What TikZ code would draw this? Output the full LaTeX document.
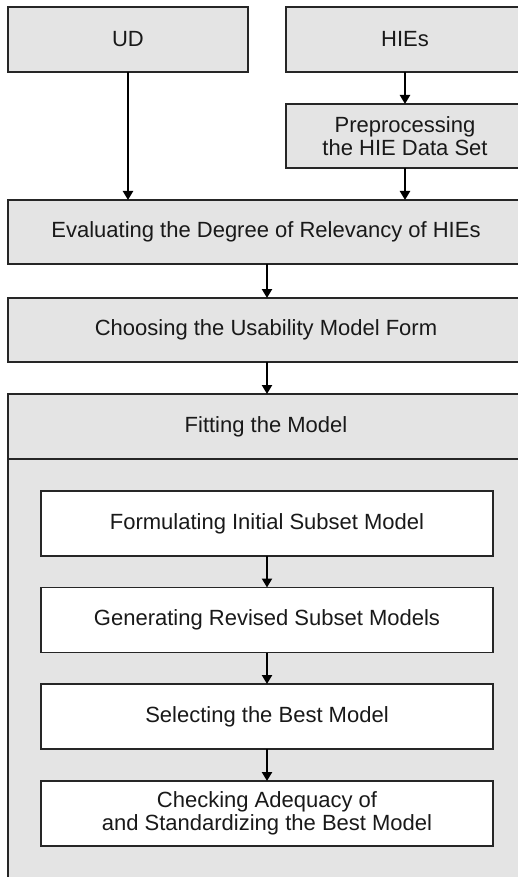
\documentclass[tikz,border=0pt]{standalone}
\usepackage{fontspec}
\setmainfont{Liberation Sans}
\usetikzlibrary{calc}
\usetikzlibrary{arrows.meta}

\definecolor{boxgray}{HTML}{E4E4E4}
\definecolor{linegray}{HTML}{262626}

\begin{document}
\begin{tikzpicture}[x=1pt,y=-1pt,
  box/.style={draw=linegray,line width=1.2pt,fill=boxgray,inner sep=0pt,outer sep=0pt,
    align=center,text=black!90,font=\fontsize{22}{23.5}\selectfont},
  subbox/.style={box,fill=white,minimum width=452,minimum height=65},
  arr/.style={-{Triangle[width=10pt,length=9pt]},line width=2.6pt,black}]

\useasboundingbox (0,0) rectangle (518,877);
\clip (0,0) rectangle (518,877);

\node[box,minimum width=240,minimum height=65] (ud) at (128,39.5) {UD};
\node[box,minimum width=238,minimum height=65] (hies) at (405,39.5) {HIEs};
\node[box,minimum width=238,minimum height=64] (prep) at (405,136) {Preprocessing\\the HIE Data Set};

\node[box,minimum width=516,minimum height=64] (eval) at (266,232) {Evaluating the Degree of Relevancy of HIEs};
\node[box,minimum width=516,minimum height=64] (choose) at (266,330) {Choosing the Usability Model Form};

\draw[linegray,line width=1.2pt,fill=boxgray] (8,394) rectangle (524,920);
\node[box,minimum width=516,minimum height=65] (fit) at (266,426.5) {Fitting the Model};

\node[subbox] (form) at (267,523.5) {Formulating Initial Subset Model};
\node[subbox] (gen) at (267,620) {Generating Revised Subset Models};
\node[subbox] (sel) at (267,716.5) {Selecting the Best Model};
\node[subbox] (chk) at (267,813.5) {Checking Adequacy of\\and Standardizing the Best Model};

\draw[arr] (ud.south) -- (ud.south |- eval.north);
\draw[arr] (hies.south) -- (prep.north);
\draw[arr] (prep.south) -- (prep.south |- eval.north);
\draw[arr] (eval.south -| form.north) -- (choose.north -| form.north);
\draw[arr] (choose.south -| form.north) -- (fit.north -| form.north);

\draw[arr] (form.south) -- (gen.north);
\draw[arr] (gen.south) -- (sel.north);
\draw[arr] (sel.south) -- (chk.north);

\end{tikzpicture}
\end{document}
